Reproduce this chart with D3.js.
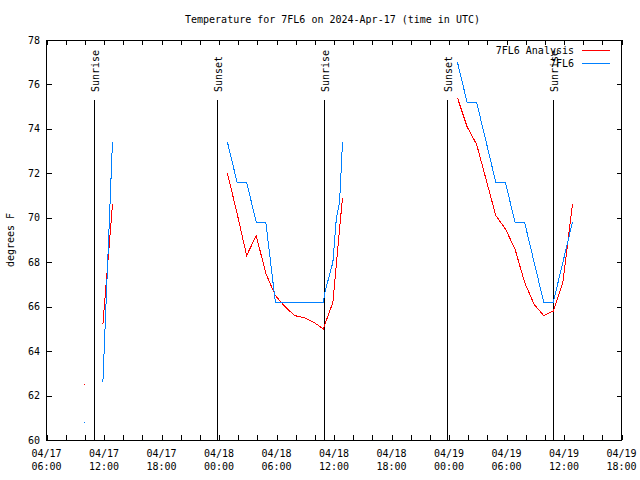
<!DOCTYPE html>
<html><head><meta charset="utf-8">
<script src="https://cdn.jsdelivr.net/npm/d3@7"></script>
<style>
html,body{margin:0;padding:0;background:#fff;}
text{font-family:"DejaVu Sans Mono",monospace;font-size:10px;fill:#000;}
</style></head>
<body>
<script>
const title = "Temperature for 7FL6 on 2024-Apr-17 (time in UTC)";
const yLabel = "degrees F";
const seriesNames = ["7FL6 Analysis", "7FL6"];
const seriesColors = ["#ff0000", "#0080ff"];

const anaTimes = ["2024-04-17 09:53","2024-04-17 10:53","2024-04-17 11:53","2024-04-17 12:53","2024-04-17 13:53",
 "2024-04-18 00:53","2024-04-18 01:53","2024-04-18 02:53","2024-04-18 03:53","2024-04-18 04:53","2024-04-18 05:53",
 "2024-04-18 06:53","2024-04-18 07:53","2024-04-18 08:53","2024-04-18 09:53","2024-04-18 10:53","2024-04-18 11:53",
 "2024-04-18 12:53","2024-04-18 13:53",
 "2024-04-19 00:53","2024-04-19 01:53","2024-04-19 02:53","2024-04-19 03:53","2024-04-19 04:53","2024-04-19 05:53",
 "2024-04-19 06:53","2024-04-19 07:53","2024-04-19 08:53","2024-04-19 09:53","2024-04-19 10:53","2024-04-19 11:53",
 "2024-04-19 12:53"];
const anaTemps = [62.5,null,65.2,70.6,null,
 72.0,70.2,68.3,69.2,67.5,66.5,
 66.0,65.6,65.5,65.3,65.0,66.2,
 70.9,null,
 75.4,74.1,73.3,71.7,70.1,69.5,
 68.6,67.1,66.1,65.6,65.8,67.1,
 70.6];

const obsTimes = ["2024-04-17 09:53","2024-04-17 10:53","2024-04-17 11:53","2024-04-17 12:53","2024-04-17 13:53",
 "2024-04-18 00:53","2024-04-18 01:53","2024-04-18 02:53","2024-04-18 03:53","2024-04-18 04:53","2024-04-18 05:53",
 "2024-04-18 06:53","2024-04-18 07:53","2024-04-18 08:53","2024-04-18 09:53","2024-04-18 10:53","2024-04-18 11:05",
 "2024-04-18 11:53","2024-04-18 12:15","2024-04-18 12:35","2024-04-18 12:53","2024-04-18 13:53",
 "2024-04-19 00:53","2024-04-19 01:53","2024-04-19 02:53","2024-04-19 03:53","2024-04-19 04:53","2024-04-19 05:53",
 "2024-04-19 06:53","2024-04-19 07:53","2024-04-19 08:53","2024-04-19 09:53","2024-04-19 10:53","2024-04-19 11:53",
 "2024-04-19 12:53"];
const obsTemps = [60.8,null,62.6,73.4,null,
 73.4,71.6,71.6,69.8,69.8,66.2,
 66.2,66.2,66.2,66.2,66.2,66.7,
 68.0,70.0,70.7,73.4,null,
 77.0,75.2,75.2,73.4,71.6,71.6,
 69.8,69.8,68.0,66.2,66.2,68.0,
 69.8];

const sunLabels = ["Sunrise","Sunset","Sunrise","Sunset","Sunrise"];
const sunTimes = ["2024-04-17 10:56","2024-04-17 23:50","2024-04-18 10:58","2024-04-18 23:50","2024-04-19 10:53"];

const xDomain = ["2024-04-17 06:00","2024-04-19 18:00"];
const yDomain = [60, 78];
const yTicks = [60,62,64,66,68,70,72,74,76,78];

const parse = d3.utcParse("%Y-%m-%d %H:%M");
const W = 640, H = 480;
const L = 46.5, R = 621.5, T = 40, B = 440;

const svg = d3.select("body").append("svg").attr("width", W).attr("height", H);

const x = d3.scaleUtc().domain(xDomain.map(parse)).range([L, R]);
const y = d3.scaleLinear().domain(yDomain).range([B, T]);

svg.append("text").attr("x", 332.5).attr("y", 23).attr("text-anchor", "middle").text(title);
svg.append("text").attr("transform", "translate(14,240) rotate(-90)").attr("text-anchor", "middle").text(yLabel);

const g = svg.append("g").attr("shape-rendering", "crispEdges");

const xTickVals = d3.utcHour.every(2).range(x.domain()[0], d3.utcMinute.offset(x.domain()[1], 1));
const tickLen = 5;
xTickVals.forEach(t => {
  const xx = Math.round(x(t)) + 0.5;
  g.append("line").attr("x1", xx).attr("x2", xx).attr("y1", B).attr("y2", B - tickLen).attr("stroke", "#000");
  g.append("line").attr("x1", xx).attr("x2", xx).attr("y1", T).attr("y2", T + tickLen).attr("stroke", "#000");
});
const xLabelVals = d3.utcHour.every(6).range(x.domain()[0], d3.utcMinute.offset(x.domain()[1], 1));
const fmtD = d3.utcFormat("%m/%d"), fmtT = d3.utcFormat("%H:%M");
xLabelVals.forEach(t => {
  const xx = x(t);
  svg.append("text").attr("x", xx).attr("y", 457).attr("text-anchor", "middle").text(fmtD(t));
  svg.append("text").attr("x", xx).attr("y", 470).attr("text-anchor", "middle").text(fmtT(t));
});
yTicks.forEach(v => {
  const yy = Math.round(y(v)) + 0.5;
  g.append("line").attr("x1", L).attr("x2", L + tickLen).attr("y1", yy).attr("y2", yy).attr("stroke", "#000");
  g.append("line").attr("x1", R).attr("x2", R - tickLen).attr("y1", yy).attr("y2", yy).attr("stroke", "#000");
  svg.append("text").attr("x", 40).attr("y", y(v) + 3.5).attr("text-anchor", "end").text(v);
});

sunTimes.forEach((s, i) => {
  const xx = Math.round(x(parse(s))) + 0.5;
  g.append("line").attr("x1", xx).attr("x2", xx).attr("y1", 100).attr("y2", B).attr("stroke", "#000");
  svg.append("text").attr("transform", `translate(${xx + 4},92) rotate(-90)`).attr("text-anchor", "start").text(sunLabels[i]);
});

function drawSeries(times, temps, color) {
  const pts = times.map((t, i) => ({t: parse(t), v: temps[i]}));
  const line = d3.line().defined(d => d.v != null).x(d => x(d.t)).y(d => y(d.v));
  g.append("path").attr("d", line(pts)).attr("fill", "none").attr("stroke", color).attr("stroke-width", 1);
  pts.forEach((d, i) => {
    if (d.v == null) return;
    const prev = i > 0 ? pts[i-1].v : null, next = i < pts.length - 1 ? pts[i+1].v : null;
    if (prev == null && next == null) {
      g.append("rect").attr("x", Math.round(x(d.t))).attr("y", Math.round(y(d.v))).attr("width", 1).attr("height", 1).attr("fill", color);
    }
  });
}
drawSeries(anaTimes, anaTemps, seriesColors[0]);
drawSeries(obsTimes, obsTemps, seriesColors[1]);

g.append("rect").attr("x", L).attr("y", T + 0.5).attr("width", R - L).attr("height", B - T).attr("fill", "none").attr("stroke", "#000");

seriesNames.forEach((n, i) => {
  const ly = 50 + i * 13;
  svg.append("text").attr("x", 574).attr("y", ly + 3.5).attr("text-anchor", "end").text(n);
  g.append("line").attr("x1", 582).attr("x2", 610).attr("y1", ly + 0.5).attr("y2", ly + 0.5).attr("stroke", seriesColors[i]);
});
</script>
</body></html>
